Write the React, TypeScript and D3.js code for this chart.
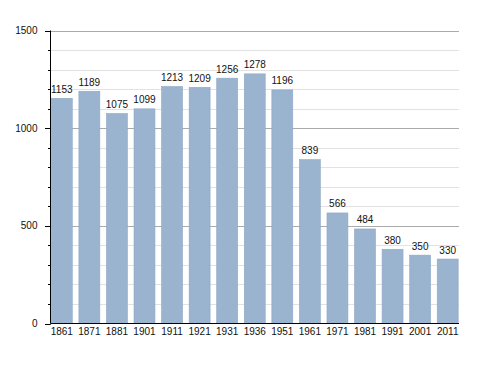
import React, { useEffect, useRef } from 'react';
import * as d3 from 'd3';

const years = ['1861', '1871', '1881', '1901', '1911', '1921', '1931', '1936', '1951', '1961', '1971', '1981', '1991', '2001', '2011'];
const population = [1153, 1189, 1075, 1099, 1213, 1209, 1256, 1278, 1196, 839, 566, 484, 380, 350, 330];
const yTicks = [0, 500, 1000, 1500];

const App = () => {
  const svgRef = useRef(null);

  useEffect(() => {
    const svg = d3.select(svgRef.current);
    svg.selectAll('*').remove();

    const left = 50.5, right = 459, top = 30.5, bottom = 323.5;
    const font = 'Liberation Sans, Arial, sans-serif';

    const x = d3.scaleBand()
      .domain(years)
      .range([left, right])
      .paddingInner(0.24)
      .paddingOuter(0.03);

    const y = d3.scaleLinear()
      .domain([0, 1500])
      .range([bottom, top]);

    // minor grid every 100
    svg.append('g')
      .selectAll('line')
      .data(d3.range(100, 1500, 100).filter(v => v % 500 !== 0))
      .enter().append('line')
      .attr('x1', left).attr('x2', right)
      .attr('y1', d => Math.round(y(d)) + 0.5).attr('y2', d => Math.round(y(d)) + 0.5)
      .attr('stroke', '#e2e2e2');

    // major grid
    svg.append('g')
      .selectAll('line')
      .data(yTicks.filter(v => v > 0))
      .enter().append('line')
      .attr('x1', left).attr('x2', right)
      .attr('y1', d => Math.round(y(d)) + 0.5).attr('y2', d => Math.round(y(d)) + 0.5)
      .attr('stroke', '#aaaaaa');

    // bars
    svg.append('g')
      .selectAll('rect')
      .data(population)
      .enter().append('rect')
      .attr('x', (d, i) => x(years[i]))
      .attr('y', d => y(d))
      .attr('width', x.bandwidth())
      .attr('height', d => bottom - y(d))
      .attr('fill', '#9ab3cf')
      .attr('stroke', '#8ea8c6')
      .attr('stroke-width', 0.6);

    // value labels
    svg.append('g')
      .selectAll('text')
      .data(population)
      .enter().append('text')
      .attr('x', (d, i) => x(years[i]) + x.bandwidth() / 2)
      .attr('y', d => y(d) - 5.5)
      .attr('text-anchor', 'middle')
      .attr('font-family', font)
      .attr('font-size', 10)
      .attr('fill', '#111')
      .text(d => d);

    // y axis
    const yAxis = svg.append('g');
    yAxis.append('line')
      .attr('x1', left).attr('x2', left)
      .attr('y1', top).attr('y2', bottom)
      .attr('stroke', '#000');
    yAxis.selectAll('.minor')
      .data(d3.range(0, 1501, 100))
      .enter().append('line')
      .attr('x1', left - 2.5).attr('x2', left)
      .attr('y1', d => Math.round(y(d)) + 0.5).attr('y2', d => Math.round(y(d)) + 0.5)
      .attr('stroke', '#000');
    yAxis.selectAll('.major')
      .data(yTicks)
      .enter().append('line')
      .attr('x1', left - 5.5).attr('x2', left)
      .attr('y1', d => Math.round(y(d)) + 0.5).attr('y2', d => Math.round(y(d)) + 0.5)
      .attr('stroke', '#000');
    yAxis.selectAll('text')
      .data(yTicks)
      .enter().append('text')
      .attr('x', 37.5)
      .attr('y', d => y(d) + 3.5)
      .attr('text-anchor', 'end')
      .attr('font-family', font)
      .attr('font-size', 10)
      .attr('fill', '#111')
      .text(d => d);

    // x axis
    svg.append('line')
      .attr('x1', left).attr('x2', right)
      .attr('y1', bottom).attr('y2', bottom)
      .attr('stroke', '#000');
    svg.append('g')
      .selectAll('text')
      .data(years)
      .enter().append('text')
      .attr('x', d => x(d) + x.bandwidth() / 2)
      .attr('y', 335)
      .attr('text-anchor', 'middle')
      .attr('font-family', font)
      .attr('font-size', 10)
      .attr('fill', '#111')
      .text(d => d);
  }, []);

  return (
    <svg ref={svgRef} width="488" height="373"
      style={{ position: 'absolute', left: 0, top: 0, background: '#fff' }}></svg>
  );
};

export default App;
